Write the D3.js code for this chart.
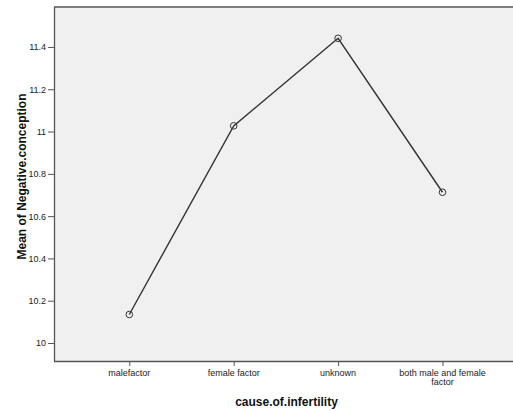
<!DOCTYPE html>
<html><head><meta charset="utf-8">
<script src="https://cdn.jsdelivr.net/npm/d3@7"></script>
<style>body{margin:0;background:#fff}svg{display:block}text{font-family:"Liberation Sans",Arial,sans-serif}</style>
</head><body>
<svg id="c" width="513" height="411"></svg>
<script>
const categories = ["malefactor", "female factor", "unknown", "both male and female factor"];
const categoryLines = [["malefactor"], ["female factor"], ["unknown"], ["both male and female", "factor"]];
const means = [10.135, 11.027, 11.441, 10.713];
const yTicks = [10, 10.2, 10.4, 10.6, 10.8, 11, 11.2, 11.4];
const yTitle = "Mean of Negative.conception";
const xTitle = "cause.of.infertility";

const svg = d3.select("#c");
const plot = {left: 54, top: 7, right: 513, bottom: 361};
const x = d3.scalePoint().domain(categories).range([129.3, 442.5]);
const y = d3.scaleLinear().domain([9.915, 11.589]).range([plot.bottom, plot.top]);

svg.append("rect").attr("x", plot.left).attr("y", plot.top)
  .attr("width", plot.right - plot.left).attr("height", plot.bottom - plot.top)
  .attr("fill", "#f0f0f0");

// top border
svg.append("line").attr("x1", plot.left).attr("x2", plot.right).attr("y1", plot.top).attr("y2", plot.top)
  .attr("stroke", "#555").attr("stroke-width", 1.3);

const yAxis = svg.append("g").attr("transform", `translate(${plot.left},0)`)
  .call(d3.axisLeft(y).tickValues(yTicks).tickSize(6).tickPadding(2).tickFormat(d => d3.format("")(+d.toFixed(1))));
yAxis.select(".domain").attr("stroke", "#555").attr("stroke-width", 1.3)
  .attr("d", `M0.5,${plot.top}V${plot.bottom}`);
yAxis.selectAll(".tick line").attr("stroke", "#555");
yAxis.selectAll(".tick text").attr("font-size", 9).attr("fill", "#222").attr("font-family", "Liberation Sans, Arial, sans-serif");

const xAxis = svg.append("g").attr("transform", `translate(0,${plot.bottom})`)
  .call(d3.axisBottom(x).tickSize(5).tickFormat(""));
xAxis.select(".domain").attr("stroke", "#555").attr("stroke-width", 1.3)
  .attr("d", `M${plot.left},0.5H${plot.right}`);
xAxis.selectAll(".tick line").attr("stroke", "#555");
categories.forEach((c, i) => {
  const t = svg.append("text").attr("x", x(c)).attr("y", 375.5).attr("text-anchor", "middle")
    .attr("font-size", 9).attr("fill", "#222");
  categoryLines[i].forEach((ln, j) => t.append("tspan").attr("x", x(c)).attr("dy", j ? 9.5 : 0).text(ln));
});

const line = d3.line().x((d, i) => x(categories[i])).y(d => y(d));
svg.append("path").datum(means).attr("d", line).attr("fill", "none")
  .attr("stroke", "#333").attr("stroke-width", 1.4);
svg.selectAll("circle.pt").data(means).enter().append("circle").attr("class", "pt")
  .attr("cx", (d, i) => x(categories[i])).attr("cy", d => y(d)).attr("r", 3.3)
  .attr("fill", "none").attr("stroke", "#333").attr("stroke-width", 1);

svg.append("text").attr("transform", "translate(26,176.5) rotate(-90)").attr("text-anchor", "middle")
  .attr("font-size", 12).attr("font-weight", "bold").attr("fill", "#111").text(yTitle);
svg.append("text").attr("x", 286.5).attr("y", 406).attr("text-anchor", "middle")
  .attr("font-size", 12).attr("font-weight", "bold").attr("fill", "#111").text(xTitle);
</script>
</body></html>
